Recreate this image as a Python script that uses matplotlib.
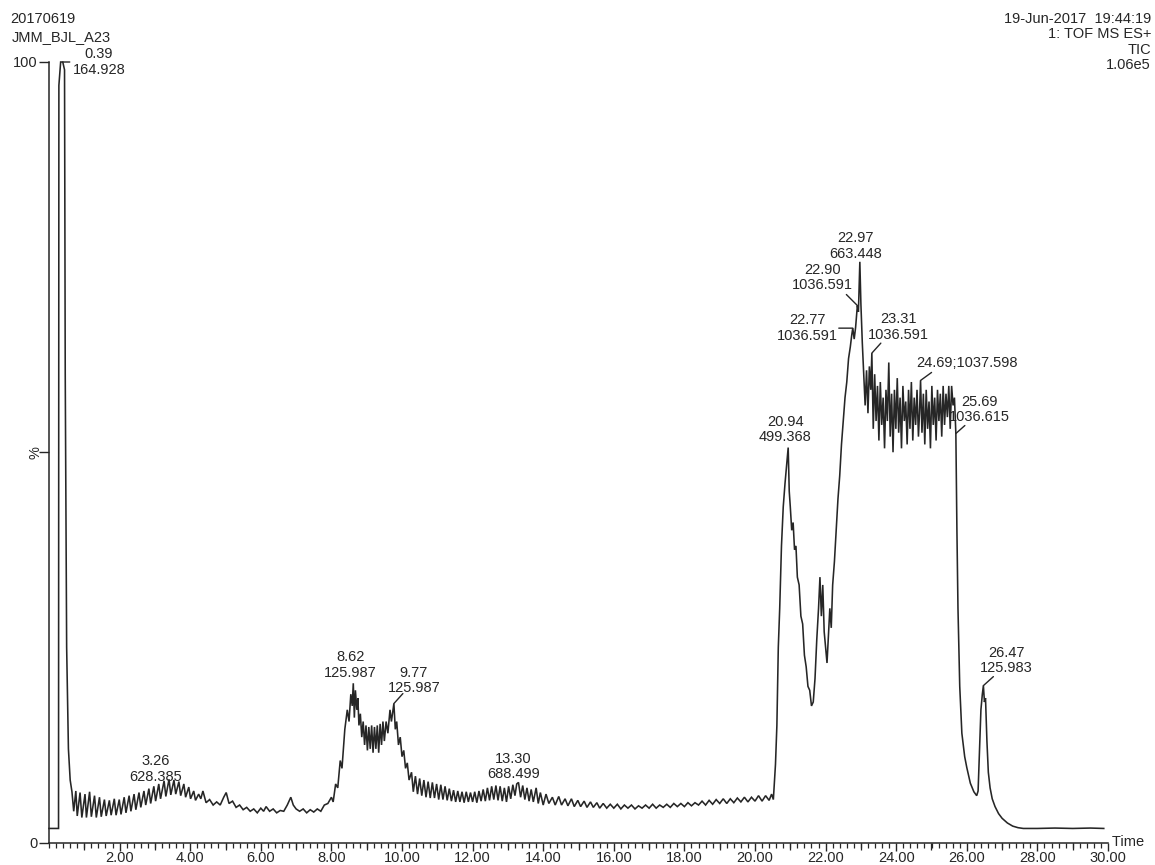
import numpy as np
import matplotlib
matplotlib.use("Agg")
import matplotlib.pyplot as plt
from matplotlib.ticker import MultipleLocator, FixedLocator, NullFormatter

plt.rcParams['font.family'] = ['Liberation Sans', 'DejaVu Sans']

# ---- TIC trace: retention time (min) and relative intensity (%) ----
rt_min = [
    0.00, 0.27, 0.28, 0.33, 0.39, 0.44, 0.46, 0.50, 0.55, 0.60, 0.65,
    0.70, 0.76, 0.80, 0.88, 0.93, 1.02, 1.06, 1.15, 1.20, 1.29, 1.34, 1.43, 1.48,
    1.57, 1.62, 1.71, 1.76, 1.85, 1.90, 1.99, 2.04, 2.13, 2.18, 2.27, 2.32, 2.41,
    2.46, 2.55, 2.60, 2.69, 2.74, 2.83, 2.88, 2.97, 3.02, 3.11, 3.16, 3.26, 3.31,
    3.40, 3.45, 3.54, 3.59, 3.68, 3.73, 3.82, 3.87, 3.96, 4.01, 4.10, 4.15, 4.24,
    4.30, 4.36, 4.45, 4.55, 4.65, 4.75, 4.85, 4.95, 5.02, 5.10, 5.20, 5.30, 5.40,
    5.50, 5.60, 5.70, 5.80, 5.90, 6.00, 6.08, 6.15, 6.25, 6.35, 6.45, 6.55, 6.65,
    6.75, 6.85, 6.92, 7.00, 7.10, 7.20, 7.30, 7.40, 7.50, 7.60, 7.70, 7.80, 7.90,
    8.00, 8.05, 8.12, 8.18, 8.25, 8.30, 8.38, 8.45, 8.50, 8.55, 8.59, 8.62, 8.65,
    8.68, 8.72, 8.75, 8.78, 8.82, 8.86, 8.90, 8.94, 8.98, 9.02, 9.06, 9.10, 9.14,
    9.18, 9.22, 9.26, 9.30, 9.34, 9.38, 9.42, 9.46, 9.50, 9.55, 9.60, 9.66, 9.70,
    9.77, 9.81, 9.85, 9.90, 9.95, 10.00, 10.05, 10.10, 10.15, 10.20, 10.27, 10.32,
    10.38, 10.44, 10.50, 10.56, 10.62, 10.68, 10.74, 10.80, 10.86, 10.92, 10.98,
    11.04, 11.10, 11.16, 11.22, 11.28, 11.34, 11.40, 11.46, 11.52, 11.58, 11.64,
    11.70, 11.76, 11.82, 11.88, 11.94, 12.00, 12.06, 12.12, 12.18, 12.24, 12.30,
    12.36, 12.42, 12.48, 12.54, 12.60, 12.66, 12.72, 12.78, 12.84, 12.90, 12.96,
    13.02, 13.08, 13.14, 13.20, 13.25, 13.30, 13.36, 13.42, 13.48, 13.54, 13.60,
    13.66, 13.72, 13.80, 13.86, 13.92, 14.00, 14.08, 14.16, 14.26, 14.34, 14.44,
    14.52, 14.62, 14.70, 14.80, 14.88, 14.98, 15.06, 15.16, 15.24, 15.34, 15.42,
    15.52, 15.60, 15.70, 15.80, 15.90, 16.00, 16.10, 16.20, 16.30, 16.40, 16.50,
    16.60, 16.70, 16.80, 16.90, 17.00, 17.10, 17.20, 17.30, 17.40, 17.50, 17.60,
    17.70, 17.80, 17.90, 18.00, 18.10, 18.20, 18.30, 18.40, 18.50, 18.60, 18.70,
    18.80, 18.90, 19.00, 19.10, 19.20, 19.30, 19.40, 19.50, 19.60, 19.70, 19.80,
    19.90, 20.00, 20.10, 20.20, 20.30, 20.40, 20.47, 20.52, 20.58, 20.62, 20.66,
    20.70, 20.75, 20.80, 20.85, 20.90, 20.94, 20.97, 21.00, 21.04, 21.08, 21.12,
    21.16, 21.20, 21.25, 21.30, 21.35, 21.40, 21.45, 21.50, 21.55, 21.60, 21.65,
    21.70, 21.75, 21.80, 21.84, 21.88, 21.92, 21.96, 22.00, 22.04, 22.08, 22.12,
    22.16, 22.20, 22.25, 22.30, 22.35, 22.40, 22.45, 22.50, 22.55, 22.60, 22.65,
    22.70, 22.74, 22.77, 22.81, 22.85, 22.90, 22.93, 22.97, 23.00, 23.04, 23.08,
    23.12, 23.16, 23.20, 23.24, 23.28, 23.31, 23.35, 23.39, 23.43, 23.47, 23.51,
    23.55, 23.59, 23.63, 23.67, 23.71, 23.75, 23.79, 23.83, 23.87, 23.91, 23.95,
    23.99, 24.03, 24.07, 24.11, 24.15, 24.19, 24.23, 24.27, 24.31, 24.35, 24.39,
    24.43, 24.47, 24.51, 24.55, 24.59, 24.63, 24.66, 24.69, 24.73, 24.77, 24.81,
    24.85, 24.89, 24.93, 24.97, 25.01, 25.05, 25.09, 25.13, 25.17, 25.21, 25.25,
    25.29, 25.33, 25.37, 25.41, 25.45, 25.49, 25.53, 25.57, 25.61, 25.65, 25.69,
    25.72, 25.75, 25.80, 25.86, 25.94, 26.00, 26.10, 26.20, 26.28, 26.32, 26.36,
    26.40, 26.44, 26.47, 26.50, 26.53, 26.57, 26.61, 26.66, 26.72, 26.80, 26.90,
    27.00, 27.15, 27.30, 27.45, 27.60, 28.00, 28.50, 29.00, 29.50, 29.88,
]

rel_int = [
    1.8, 1.8, 97.0, 100.0, 100.0, 99.0, 60.0, 25.0, 12.0, 8.0, 6.5,
    4.0, 6.6, 3.4, 6.4, 3.2, 6.2, 3.2, 6.5, 3.3, 6.0, 3.2, 5.8, 3.3,
    5.5, 3.4, 5.4, 3.5, 5.6, 3.5, 5.5, 3.6, 5.8, 3.8, 6.0, 4.0, 6.2,
    4.2, 6.4, 4.5, 6.6, 4.8, 6.9, 5.0, 7.2, 5.3, 7.5, 5.6, 7.9, 5.9,
    8.1, 6.1, 8.0, 6.2, 7.8, 6.0, 7.5, 5.8, 7.1, 5.6, 6.6, 5.4, 6.2,
    5.6, 6.6, 5.1, 5.5, 4.8, 5.2, 4.8, 5.8, 6.4, 5.0, 5.3, 4.5, 4.8,
    4.2, 4.5, 4.0, 4.3, 3.8, 4.4, 4.0, 4.6, 4.0, 4.3, 3.8, 4.1, 4.0,
    4.8, 5.8, 4.8, 4.3, 4.0, 4.3, 3.8, 4.2, 3.9, 4.3, 4.0, 4.8, 5.0,
    5.8, 5.2, 7.5, 7.0, 10.5, 9.5, 14.5, 17.0, 15.5, 19.0, 17.5, 20.4, 16.0,
    19.5, 17.0, 18.5, 15.0, 16.5, 13.5, 15.5, 12.5, 15.0, 11.8, 14.8, 12.0, 15.0,
    11.5, 14.8, 12.0, 15.0, 11.5, 15.2, 12.5, 15.5, 13.0, 15.5, 14.0, 17.0, 15.5,
    17.8, 14.5, 15.5, 12.5, 13.5, 11.0, 11.8, 9.5, 10.2, 8.0, 9.0, 6.5,
    8.5, 6.2, 8.2, 6.0, 8.0, 5.8, 7.8, 5.7, 7.7, 5.7, 7.5,
    5.5, 7.4, 5.5, 7.2, 5.4, 6.9, 5.3, 6.7, 5.2, 6.6, 5.2,
    6.5, 5.1, 6.5, 5.2, 6.4, 5.2, 6.5, 5.1, 6.6, 5.3, 6.8,
    5.3, 7.0, 5.4, 7.2, 5.5, 7.3, 5.4, 7.2, 5.3, 7.0, 5.2,
    7.2, 5.6, 7.4, 6.0, 7.5, 7.7, 5.8, 7.3, 5.5, 7.0, 5.3,
    6.8, 5.2, 7.0, 5.0, 6.4, 4.8, 6.2, 5.0, 5.8, 4.8, 5.9,
    4.8, 5.6, 4.7, 5.6, 4.6, 5.4, 4.6, 5.3, 4.5, 5.2, 4.5,
    5.1, 4.4, 5.0, 4.4, 4.9, 4.4, 4.9, 4.3, 4.8, 4.4, 4.8,
    4.3, 4.7, 4.4, 4.8, 4.4, 4.9, 4.4, 4.8, 4.5, 4.9, 4.5,
    5.0, 4.6, 5.0, 4.6, 5.1, 4.7, 5.1, 4.8, 5.3, 4.8, 5.4,
    4.9, 5.5, 5.0, 5.6, 5.0, 5.6, 5.1, 5.7, 5.2, 5.8, 5.2,
    5.8, 5.3, 6.0, 5.3, 6.0, 5.4, 6.2, 5.5, 10.0, 15.0, 25.0,
    30.0, 38.0, 43.0, 46.0, 48.5, 50.6, 45.0, 43.0, 40.0, 41.0, 37.5,
    38.0, 34.0, 33.0, 29.0, 28.0, 24.0, 22.5, 20.0, 19.5, 17.5, 18.0,
    21.0, 26.0, 30.0, 34.0, 29.0, 33.0, 27.0, 25.0, 23.0, 26.5, 30.0,
    27.5, 33.0, 36.0, 40.0, 44.0, 47.0, 51.0, 54.0, 57.0, 59.0, 62.0,
    63.5, 65.0, 65.9, 64.5, 66.0, 68.8, 68.0, 74.4, 69.0, 64.0, 60.0,
    56.0, 60.5, 55.0, 61.0, 58.0, 62.7, 53.0, 60.0, 54.0, 58.5, 51.5,
    59.0, 53.5, 57.0, 50.5, 58.0, 54.0, 61.5, 52.0, 57.5, 50.0, 58.0,
    53.0, 59.5, 52.5, 57.0, 50.5, 58.5, 54.0, 56.5, 51.0, 58.0, 53.0,
    59.0, 51.5, 57.0, 53.5, 58.0, 52.0, 55.0, 59.2, 52.5, 57.5, 51.0,
    58.0, 53.0, 56.5, 50.5, 58.5, 53.5, 57.0, 51.5, 58.0, 54.0, 57.5,
    52.0, 58.5, 53.5, 57.5, 54.5, 58.5, 53.0, 58.5, 56.0, 57.0, 52.4,
    40.0, 30.0, 20.0, 14.0, 11.0, 9.6, 7.6, 6.5, 6.0, 6.6, 12.0,
    17.0, 19.0, 20.1, 18.0, 18.5, 13.0, 9.0, 7.0, 5.6, 4.6, 3.7,
    3.1, 2.5, 2.1, 1.9, 1.8, 1.8, 1.85, 1.8, 1.85, 1.8,
]

# ---- labelled peaks: retention time and base-peak m/z ----
peak_rt = [0.39, 3.26, 8.62, 9.77, 13.30, 20.94, 22.77, 22.90, 22.97, 23.31, 24.69, 25.69, 26.47]
peak_mz = ["164.928", "628.385", "125.987", "125.987", "688.499", "499.368", "1036.591",
           "1036.591", "663.448", "1036.591", "1037.598", "1036.615", "125.983"]
single_line = [False] * 10 + [True, False, False]

# label block centre offset (px) and optional leader end offset (px) from each apex
label_offset = [(36, 0), (-8, 12), (-3, 18), (20, 23), (-5, 16), (-3, 18), (-45, 0),
                (-35, 28), (-4, 16), (27, 26), (-4, 17), (24, 24), (23, 25)]
leader_end = [(7, 0), None, None, (9, 10), None, None, (-14, 0),
              (-11, 11), None, (9, 10), (11, 8), (9, 8), (10, 9)]

W, H = 1155, 865
fig = plt.figure(figsize=(W / 100, H / 100), dpi=100)
fig.patch.set_facecolor("white")

x0_px, x30_px = 49, 1108
y0_px, y100_px = 842.5, 62
ax = fig.add_axes([x0_px / W, (H - y0_px) / H, (x30_px - x0_px) / W, (y0_px - y100_px) / H])

ink = "#262626"
ax.plot(rt_min, rel_int, color=ink, lw=1.15, clip_on=False, solid_joinstyle="miter")

ax.set_xlim(0, 30)
ax.set_ylim(0, 100)
for s in ("top", "right"):
    ax.spines[s].set_visible(False)
for s in ("left", "bottom"):
    ax.spines[s].set_color(ink)
    ax.spines[s].set_linewidth(1.1)

fs = 10.5
# x axis: labelled ticks every 2 min, mid ticks at odd minutes, fine ticks every 0.2 min
ax.xaxis.set_major_locator(FixedLocator(np.arange(2, 31, 2)))
ax.set_xticklabels([f"{v:.2f}" for v in np.arange(2, 31, 2)])
ax.xaxis.set_minor_locator(MultipleLocator(0.2))
ax.tick_params(axis="x", which="major", direction="out", length=6, width=1.0,
               color=ink, labelsize=fs, labelcolor=ink, pad=0)
ax.tick_params(axis="x", which="minor", direction="out", length=3.5, width=0.9, color=ink)
sec = ax.secondary_xaxis("bottom")
sec.set_xticks(np.arange(1, 30, 2))
sec.xaxis.set_major_formatter(NullFormatter())
sec.tick_params(direction="out", length=5, width=0.9, color=ink)
sec.spines["bottom"].set_visible(False)

# y axis: 0, % and 100 only
ax.set_yticks([0, 50, 100])
ax.set_yticklabels(["0", "", "100"])
ax.tick_params(axis="y", direction="out", length=7, width=1.0, color=ink,
               labelsize=fs, labelcolor=ink, pad=1)
ax.annotate("%", xy=(0, 50), xycoords=("axes fraction", "data"), xytext=(-13, 0),
            textcoords="offset pixels", rotation=90, ha="center", va="center",
            fontsize=fs, color=ink)

ax.text(1.0, 0.0, " Time", transform=ax.transAxes, fontsize=fs, color=ink,
        ha="left", va="center")

# header text
fig.text(10 / W, 1 - 19 / H, "20170619", fontsize=fs, color=ink, ha="left", va="center")
fig.text(12 / W, 1 - 37 / H, "JMM_BJL_A23", fontsize=fs, color=ink, ha="left", va="center")
right_lines = ["19-Jun-2017  19:44:19", "1: TOF MS ES+", "TIC", "1.06e5"]
for i, s in enumerate(right_lines):
    fig.text(1151 / W, 1 - (19 + 15.3 * i) / H, s, fontsize=fs, color=ink,
             ha="right", va="center")

# peak annotations
for rt, mz, one, off, lead in zip(peak_rt, peak_mz, single_line, label_offset, leader_end):
    v = float(np.interp(rt, rt_min, rel_int))
    txt = f"{rt:.2f};{mz}" if one else f"{rt:.2f}\n{mz}"
    ax.annotate(txt, xy=(rt, v), xytext=off, textcoords="offset pixels",
                ha="left" if one else "center", va="center", fontsize=fs, color=ink,
                multialignment="center", linespacing=1.15, annotation_clip=False)
    if lead is not None:
        ax.annotate("", xy=(rt, v), xytext=lead, textcoords="offset pixels",
                    arrowprops=dict(arrowstyle="-", color=ink, lw=1.0,
                                    shrinkA=0, shrinkB=0),
                    annotation_clip=False)

fig.savefig("out.png", dpi=100, facecolor="white")
